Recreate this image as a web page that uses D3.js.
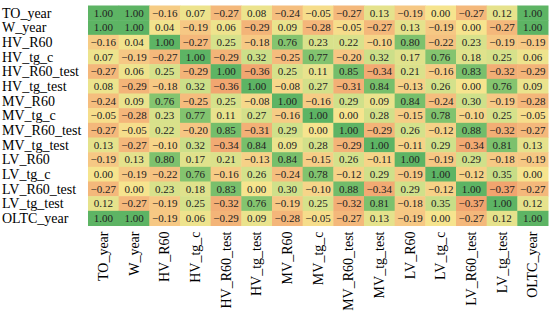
<!DOCTYPE html>
<html>
<head>
<meta charset="utf-8">
<script src="https://cdn.jsdelivr.net/npm/d3@7"></script>
<style>
  body { margin: 0; background: #fff; }
</style>
</head>
<body>
<script>
'use strict';

var labels = ["TO_year", "W_year", "HV_R60", "HV_tg_c", "HV_R60_test", "HV_tg_test",
   "MV_R60", "MV_tg_c", "MV_R60_test", "MV_tg_test", "LV_R60", "LV_tg_c",
   "LV_R60_test", "LV_tg_test", "OLTC_year"];

var TO_year     = [1.00, 1.00, -0.16, 0.07, -0.27, 0.08, -0.24, -0.05, -0.27, 0.13, -0.19, 0.00, -0.27, 0.12, 1.00];
var W_year      = [1.00, 1.00, 0.04, -0.19, 0.06, -0.29, 0.09, -0.28, -0.05, -0.27, 0.13, -0.19, 0.00, -0.27, 1.00];
var HV_R60      = [-0.16, 0.04, 1.00, -0.27, 0.25, -0.18, 0.76, 0.23, 0.22, -0.10, 0.80, -0.22, 0.23, -0.19, -0.19];
var HV_tg_c     = [0.07, -0.19, -0.27, 1.00, -0.29, 0.32, -0.25, 0.77, -0.20, 0.32, 0.17, 0.76, 0.18, 0.25, 0.06];
var HV_R60_test = [-0.27, 0.06, 0.25, -0.29, 1.00, -0.36, 0.25, 0.11, 0.85, -0.34, 0.21, -0.16, 0.83, -0.32, -0.29];
var HV_tg_test  = [0.08, -0.29, -0.18, 0.32, -0.36, 1.00, -0.08, 0.27, -0.31, 0.84, -0.13, 0.26, 0.00, 0.76, 0.09];
var MV_R60      = [-0.24, 0.09, 0.76, -0.25, 0.25, -0.08, 1.00, -0.16, 0.29, 0.09, 0.84, -0.24, 0.30, -0.19, -0.28];
var MV_tg_c     = [-0.05, -0.28, 0.23, 0.77, 0.11, 0.27, -0.16, 1.00, 0.00, 0.28, -0.15, 0.78, -0.10, 0.25, -0.05];
var MV_R60_test = [-0.27, -0.05, 0.22, -0.20, 0.85, -0.31, 0.29, 0.00, 1.00, -0.29, 0.26, -0.12, 0.88, -0.32, -0.27];
var MV_tg_test  = [0.13, -0.27, -0.10, 0.32, -0.34, 0.84, 0.09, 0.28, -0.29, 1.00, -0.11, 0.29, -0.34, 0.81, 0.13];
var LV_R60      = [-0.19, 0.13, 0.80, 0.17, 0.21, -0.13, 0.84, -0.15, 0.26, -0.11, 1.00, -0.19, 0.29, -0.18, -0.19];
var LV_tg_c     = [0.00, -0.19, -0.22, 0.76, -0.16, 0.26, -0.24, 0.78, -0.12, 0.29, -0.19, 1.00, -0.12, 0.35, 0.00];
var LV_R60_test = [-0.27, 0.00, 0.23, 0.18, 0.83, 0.00, 0.30, -0.10, 0.88, -0.34, 0.29, -0.12, 1.00, -0.37, -0.27];
var LV_tg_test  = [0.12, -0.27, -0.19, 0.25, -0.32, 0.76, -0.19, 0.25, -0.32, 0.81, -0.18, 0.35, -0.37, 1.00, 0.12];
var OLTC_year   = [1.00, 1.00, -0.19, 0.06, -0.29, 0.09, -0.28, -0.05, -0.27, 0.13, -0.19, 0.00, -0.27, 0.12, 1.00];

var rows = [TO_year, W_year, HV_R60, HV_tg_c, HV_R60_test, HV_tg_test, MV_R60, MV_tg_c,
   MV_R60_test, MV_tg_test, LV_R60, LV_tg_c, LV_R60_test, LV_tg_test, OLTC_year];

window.onload = function(){

   var serif = "'Liberation Serif'";

   // flatten into cells
   var cells = [];
   rows.forEach(function(r, i){
      r.forEach(function(v, j){
         cells.push({row: labels[i], col: labels[j], value: v});
      });
   });

   var width = 550, height = 331;
   var gridLeft = 88, gridTop = 5.5, gridRight = 548, gridBottom = 225.5;

   var svg = d3.select("body").append("svg")
      .attr("width", width)
      .attr("height", height);

   var x = d3.scaleBand().domain(labels).range([gridLeft, gridRight]);
   var y = d3.scaleBand().domain(labels).range([gridTop, gridBottom]);

   var color = d3.scaleLinear()
      .domain([-0.37, -0.2, 0, 0.3, 0.76, 1])
      .range(["#f1a46f", "#f6c683", "#f6e48e", "#cfe08a", "#84c46f", "#5db464"])
      .clamp(true);

   var fmt = d3.format(".2f");

   svg.selectAll("rect.cell")
      .data(cells)
      .enter()
      .append("rect")
      .attr("class", "cell")
      .attr("x", function(d){ return x(d.col); })
      .attr("y", function(d){ return y(d.row); })
      .attr("width", x.bandwidth() + 0.5)
      .attr("height", y.bandwidth() + 0.5)
      .style("fill", function(d){ return color(d.value); });

   svg.selectAll("text.val")
      .data(cells)
      .enter()
      .append("text")
      .attr("class", "val")
      .attr("x", function(d){ return x(d.col) + x.bandwidth() / 2; })
      .attr("y", function(d){ return y(d.row) + y.bandwidth() / 2 + 3.8; })
      .attr("text-anchor", "middle")
      .style("font-family", serif)
      .style("font-size", "11px")
      .style("fill", "#222")
      .text(function(d){ return fmt(d.value); });

   // row labels
   svg.selectAll("text.rowlab")
      .data(labels)
      .enter()
      .append("text")
      .attr("class", "rowlab")
      .attr("x", 2)
      .attr("y", function(d){ return y(d) + y.bandwidth() / 2 + 4.8; })
      .style("font-family", serif)
      .style("font-size", "14px")
      .style("fill", "#000")
      .text(function(d){ return d; });

   // column labels, rotated
   svg.selectAll("text.collab")
      .data(labels)
      .enter()
      .append("text")
      .attr("class", "collab")
      .attr("transform", function(d){
         return "translate(" + (x(d) + x.bandwidth() / 2 + 4.8) + "," + (gridBottom + 6) + ") rotate(-90)";
      })
      .attr("text-anchor", "end")
      .style("font-family", serif)
      .style("font-size", "14px")
      .style("fill", "#000")
      .text(function(d){ return d; });
};
</script>
</body>
</html>
